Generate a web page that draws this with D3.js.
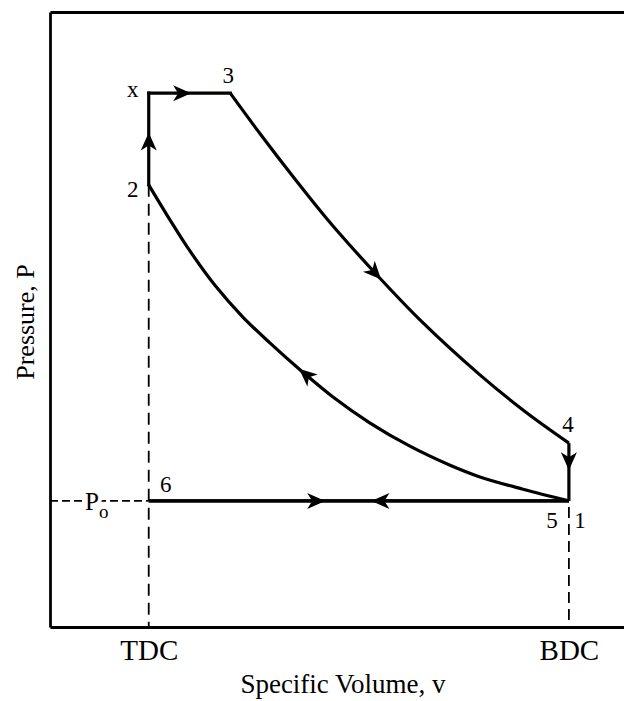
<!DOCTYPE html>
<html>
<head>
<meta charset="utf-8">
<script src="https://cdnjs.cloudflare.com/ajax/libs/d3/7.8.5/d3.min.js"></script>
<style>
  body { margin: 0; background: #fff; }
  svg { display: block; font-family: "Liberation Serif", "Times New Roman", serif; }
</style>
</head>
<body>
<svg width="624" height="701"></svg>
<script>
// P-v diagram of the cycle, arbitrary units
const stateNames = ["1", "2", "x", "3", "4", "5", "6"];
const stateV = [9.04, 1.72, 1.72, 3.14, 9.04, 9.04, 1.72];
const stateP = [2.05, 7.19, 8.68, 8.68, 2.99, 2.05, 2.05];

const strokeNames = ["TDC", "BDC"];
const strokeV = [1.72, 9.04];
const P0 = 2.05;

// compression, 1 -> 2
const compV = [9.04, 8.24, 7.49, 6.97, 6.27, 5.57, 4.93, 4.36, 3.83, 3.36, 2.87, 2.39, 2.09, 1.72];
const compP = [2.05, 2.24, 2.44, 2.63, 2.94, 3.32, 3.74, 4.18, 4.62, 5.04, 5.56, 6.18, 6.62, 7.19];

// expansion, 3 -> 4
const expV = [3.14, 3.66, 4.27, 4.83, 5.66, 6.45, 7.49, 8.28, 9.04];
const expP = [8.68, 8.02, 7.28, 6.63, 5.76, 4.99, 4.10, 3.50, 2.99];

// arrows: process and how far along it the tip sits
const arrowOn = ["1-2", "2-x", "x-3", "3-4", "4-1", "6-1", "1-6"];
const arrowAt = [0.56, 0.57, 0.52, 0.49, 0.47, 0.42, 0.47];

const margin = {top: 12, right: 0, bottom: 74, left: 50};
const W = 624, H = 701;

const svg = d3.select("svg");

const x = d3.scaleLinear().domain([0, 10]).range([margin.left, W - margin.right]);
const y = d3.scaleLinear().domain([0, 10]).range([H - margin.bottom, margin.top]);

const st = {};
stateNames.forEach((n, i) => st[n] = [stateV[i], stateP[i]]);

// frame
const axisStyle = g => g.select(".domain").attr("stroke", "#000").attr("stroke-width", 2.8);

svg.append("g")
    .attr("transform", `translate(0,${y(0)})`)
    .call(d3.axisBottom(x).tickValues(strokeV).tickSize(0).tickPadding(12)
        .tickFormat((d, i) => strokeNames[i]))
    .call(axisStyle)
    .call(g => g.selectAll("text").attr("font-size", 29).attr("fill", "#000")
        .attr("font-family", "Liberation Serif"));

svg.append("g")
    .attr("transform", `translate(${x(0)},0)`)
    .call(d3.axisLeft(y).tickValues([]).tickSizeOuter(0))
    .call(axisStyle);

svg.append("g")
    .attr("transform", `translate(0,${y(10)})`)
    .call(d3.axisTop(x).tickValues([]).tickSizeOuter(0))
    .call(axisStyle);

// axis titles
svg.append("text")
    .attr("x", 343).attr("y", 693)
    .attr("text-anchor", "middle")
    .attr("font-size", 27)
    .text("Specific Volume, v");

svg.append("text")
    .attr("transform", "translate(34,322) rotate(-90)")
    .attr("text-anchor", "middle")
    .attr("font-size", 26)
    .text("Pressure, P");

// dashed guides
const dash = svg.append("g").attr("stroke", "#000").attr("stroke-width", 1.8).attr("fill", "none");
dash.append("line")
    .attr("x1", x(st["2"][0])).attr("x2", x(st["2"][0]))
    .attr("y1", y(st["2"][1])).attr("y2", y(0))
    .attr("stroke-dasharray", "12,7");
dash.append("line")
    .attr("x1", x(st["1"][0])).attr("x2", x(st["1"][0]))
    .attr("y1", y(st["1"][1]) + 6).attr("y2", y(0))
    .attr("stroke-dasharray", "11,6");
dash.append("line")
    .attr("x1", x(0)).attr("x2", x(st["6"][0]))
    .attr("y1", y(P0)).attr("y2", y(P0))
    .attr("stroke-dasharray", "8,4");

const p0 = svg.append("text")
    .attr("x", 85).attr("y", y(P0) + 9)
    .attr("font-size", 25)
    .attr("stroke", "#fff").attr("stroke-width", 8)
    .attr("paint-order", "stroke");
p0.append("tspan").text("P");
p0.append("tspan").attr("dy", 8).attr("font-size", 19).text("o");

// processes
const line = d3.line().x(d => x(d[0])).y(d => y(d[1]));
const curve = d3.line().x(d => x(d[0])).y(d => y(d[1])).curve(d3.curveCatmullRom.alpha(0.5));

const procs = {
    "1-2": curve(d3.zip(compV, compP)),
    "2-x": line([st["2"], st["x"]]),
    "x-3": line([st["x"], st["3"]]),
    "3-4": curve(d3.zip(expV, expP)),
    "4-1": line([st["4"], st["1"]]),
    "6-1": line([st["6"], st["1"]]),
    "1-6": line([st["1"], st["6"]])
};

const paths = {};
const cyc = svg.append("g").attr("fill", "none").attr("stroke", "#000").attr("stroke-width", 3.2);
Object.keys(procs).forEach(k => {
    paths[k] = cyc.append("path")
        .attr("d", procs[k])
        .attr("stroke-linecap", k === "2-x" || k === "x-3" ? "square" : "butt")
        .node();
});

// arrowheads
arrowOn.forEach((k, i) => {
    const p = paths[k];
    const L = p.getTotalLength();
    const s = L * arrowAt[i];
    const a = p.getPointAtLength(Math.max(0, s - 1));
    const b = p.getPointAtLength(Math.min(L, s + 1));
    const ang = Math.atan2(b.y - a.y, b.x - a.x) * 180 / Math.PI;
    const tip = p.getPointAtLength(s);
    svg.append("path")
        .attr("d", "M0,0L-18,-8L-13,0L-18,8Z")
        .attr("transform", `translate(${tip.x},${tip.y}) rotate(${ang})`)
        .attr("fill", "#000");
});

// state labels
const labelOff = {"1": [11, 27], "2": [-16, 12], "x": [-16, 4], "3": [-2, -10],
                  "4": [-1, -11], "5": [-17, 27], "6": [17, -9]};
svg.append("g")
    .attr("font-size", 23)
    .attr("text-anchor", "middle")
    .selectAll("text")
    .data(stateNames)
    .join("text")
    .attr("x", d => x(st[d][0]) + labelOff[d][0])
    .attr("y", d => y(st[d][1]) + labelOff[d][1])
    .text(d => d);
</script>
</body>
</html>
